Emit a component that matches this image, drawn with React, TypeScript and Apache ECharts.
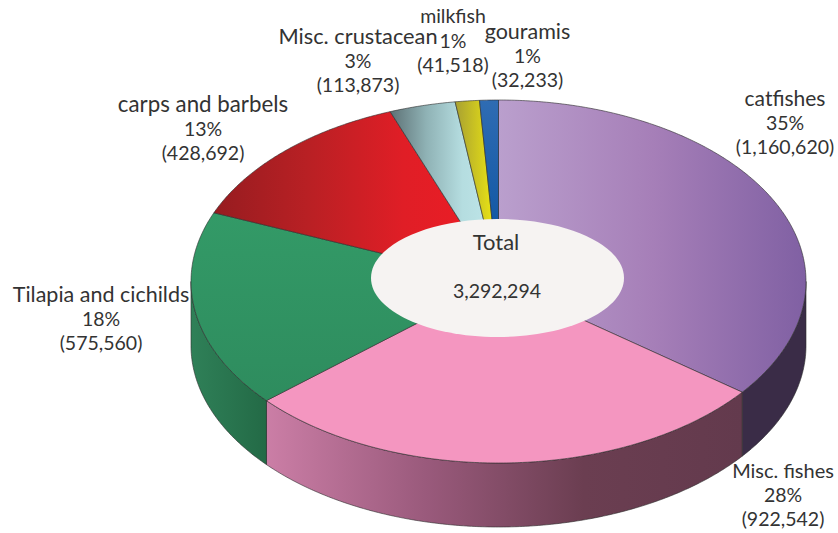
import React, { useEffect, useRef } from "react";
import * as echarts from "echarts";

const categories = ["catfishes", "Misc. fishes", "Tilapia and cichilds", "carps and barbels", "Misc. crustacean", "milkfish", "gouramis"];
const values = [1160620, 922542, 575560, 428692, 113873, 41518, 32233];
const percentLabels = ["35%", "28%", "18%", "13%", "3%", "1%", "1%"];
const valueLabels = ["(1,160,620)", "(922,542)", "(575,560)", "(428,692)", "(113,873)", "(41,518)", "(32,233)"];
const totalLabel = "Total";
const totalValue = "3,292,294";

const CX = 498.5, CY = 281.5, RX = 307.5, RY = 181.5, DEPTH = 64;
const FONT = "Lato";
const labelAnchors = [[785, 122], [783, 494], [101, 318], [203, 128], [358, 60], [453, 40], [527.5, 55]];
const nameSizes = [21, 20, 21.5, 22.3, 21.8, 19.5, 21.5];

const hg = (stops: string[]) => new echarts.graphic.LinearGradient(0, 0, 1, 0, stops.map((color, i) => ({ offset: i / (stops.length - 1), color })));
const vg = (stops: string[]) => new echarts.graphic.LinearGradient(0, 0, 0, 1, stops.map((color, i) => ({ offset: i / (stops.length - 1), color })));

const topFills = [
  hg(["#ba9fcd", "#a67fb8", "#8060a3"]),
  "#f496c0",
  vg(["#339a67", "#2e8c5e"]),
  hg(["#961c20", "#b92024", "#e01e26", "#ee1c25"]),
  hg(["#5d7175", "#8fb2b5", "#b5dde0", "#c0e7ea"]),
  hg(["#a8a032", "#f2ec10"]),
  vg(["#2f6cb3", "#064f9e"]),
];
const wallFills = [
  "#3a2c47",
  hg(["#cb7ea6", "#9a5a7c", "#6b3e51", "#633a4d"]),
  hg(["#2f8058", "#236a46"]),
  "#333", "#333", "#333", "#333",
];

const total = values.reduce((a, b) => a + b, 0);
const starts: number[] = [];
values.reduce((acc, v) => { starts.push(acc); return acc + v; }, 0);
const angleOf = (v: number) => (v / total) * 360;
const pt = (deg: number, dy = 0) => {
  const r = (deg * Math.PI) / 180;
  return [CX + RX * Math.sin(r), CY - RY * Math.cos(r) + dy];
};
const arc = (a: number, b: number, dy = 0) => {
  const out: number[][] = [];
  const n = Math.max(2, Math.ceil((b - a) * 2));
  for (let i = 0; i <= n; i++) out.push(pt(a + ((b - a) * i) / n, dy));
  return out;
};

const renderTop = (params: any) => {
  const i = params.dataIndex;
  const a = angleOf(starts[i]);
  const b = a + angleOf(values[i]);
  return {
    type: "polygon",
    shape: { points: [[CX, CY], ...arc(a, b)] },
    style: { fill: topFills[i], stroke: "#2b2b2b", lineWidth: 0.6 },
  };
};
const renderWall = (params: any) => {
  const i = params.dataIndex;
  const a = Math.max(angleOf(starts[i]), 90);
  const b = Math.min(angleOf(starts[i]) + angleOf(values[i]), 270);
  if (b <= a) return { type: "group", children: [] };
  return {
    type: "polygon",
    shape: { points: [...arc(a, b), ...arc(a, b, DEPTH).reverse()] },
    style: { fill: wallFills[i], stroke: "#2b2b2b", lineWidth: 0.6 },
  };
};

const LH = 24.5;
const richLabel = (i: number) => ({
  text: `{n|${categories[i]}}\n{v|${percentLabels[i]}}\n{v|${valueLabels[i]}}`,
  fill: "#333333", font: `19.5px ${FONT}`, align: "center", verticalAlign: "middle",
  rich: {
    n: { fontFamily: FONT, fontSize: nameSizes[i], lineHeight: LH, fill: "#333333", align: "center" },
    v: { fontFamily: FONT, fontSize: 19.5, lineHeight: LH, fill: "#333333", align: "center" },
  },
});
const plain = (text: string, size: number) => ({
  text, fill: "#333333", font: `${size}px ${FONT}`, align: "center", verticalAlign: "middle",
});

export default function App() {
  const ref = useRef<HTMLDivElement>(null);
  useEffect(() => {
    const chart = echarts.init(ref.current!, undefined, { renderer: "svg" });
    const data = values.map((v) => [v]);
    chart.setOption({
      animation: false,
      backgroundColor: "#ffffff",
      series: [
        { type: "custom", coordinateSystem: "none", z: 2, silent: true, renderItem: renderWall, data },
        { type: "custom", coordinateSystem: "none", z: 3, silent: true, renderItem: renderTop, data },
      ],
      graphic: [
        { type: "ellipse", z: 10, silent: true, shape: { cx: 497.5, cy: 278, rx: 126.5, ry: 59 }, style: { fill: "#f6f3f2" } },
        { type: "text", z: 11, silent: true, x: 496, y: 241, style: plain(totalLabel, 22) },
        { type: "text", z: 11, silent: true, x: 497, y: 290, style: plain(totalValue, 19.5) },
        ...categories.map((c, i) => ({
          type: "text", z: 12, silent: true, x: labelAnchors[i][0], y: labelAnchors[i][1],
          style: richLabel(i),
        })),
      ],
    });
    return () => chart.dispose();
  }, []);
  return <div ref={ref} style={{ position: "absolute", left: 0, top: 0, width: 838, height: 533 }} />;
}
